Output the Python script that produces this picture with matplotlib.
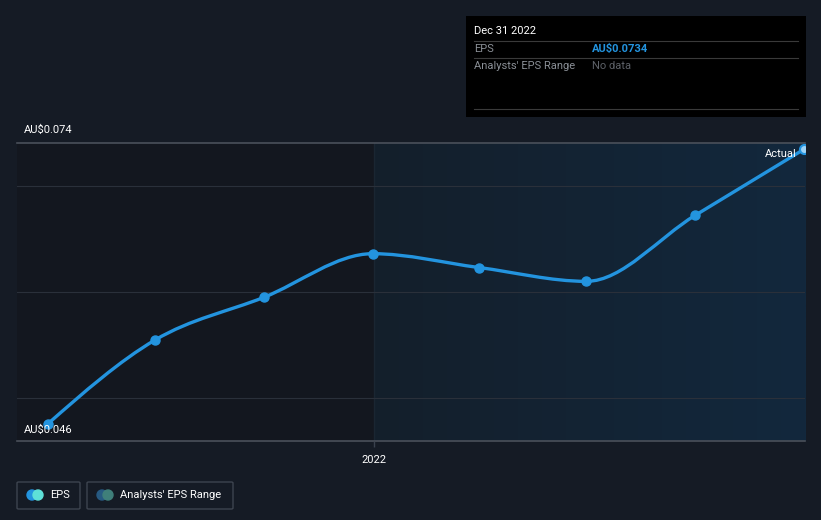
import matplotlib
matplotlib.use("Agg")
import matplotlib.pyplot as plt
import matplotlib.dates as mdates
from matplotlib.path import Path
from matplotlib.patches import PathPatch, FancyBboxPatch, Rectangle, Ellipse
from matplotlib.colors import LinearSegmentedColormap
import numpy as np
import datetime as dt

plt.rcParams['font.family'] = ['Roboto', 'DejaVu Sans']

# ---- data ----
dates = ["2021-03-31", "2021-06-30", "2021-09-30", "2021-12-31",
         "2022-03-31", "2022-06-30", "2022-09-30", "2022-12-31"]
eps = [0.0476, 0.0555, 0.0595, 0.0636, 0.0623, 0.0610, 0.0672, 0.0734]
y_labels = ["AU$0.046", "AU$0.074"]
y_min, y_max = 0.046, 0.074
grid_vals = [0.05, 0.06, 0.07]
forecast_start = "2022-01-01"
tooltip_date = "Dec 31 2022"
tooltip_value = "AU$0.0734"

BG = "#151b25"
LINE = "#2394df"

W, H = 821, 520
fig = plt.figure(figsize=(W / 100, H / 100), dpi=100)
fig.patch.set_facecolor(BG)

L, R, T, B = 17, 805, 143, 441
ax = fig.add_axes([L / W, (H - B) / H, (R - L) / W, (B - T) / H])
ax.set_facecolor("#13171f")

xd = mdates.datestr2num(dates)
fs = mdates.datestr2num(forecast_start)
x0 = mdates.date2num(dt.datetime(2021, 3, 5))
x1 = mdates.date2num(dt.datetime(2023, 1, 1))
ax.set_xlim(x0, x1)
ax.set_ylim(y_min, y_max)

# shaded region with gradient
grad = np.linspace(0, 1, 256).reshape(1, -1)
cmap = LinearSegmentedColormap.from_list("g", ["#141f2b", "#12283d"])
ax.imshow(grad, extent=[fs, x1, y_min, y_max], aspect="auto", cmap=cmap, zorder=0)
ax.axvline(fs, color="#1a2632", lw=1, zorder=1)

# grid lines
for g in grid_vals:
    ax.axhline(g, color="#2a303a", lw=0.8, zorder=1)
ax.axhline(y_max, color="#4a505a", lw=1.2, zorder=1, clip_on=False)
ax.axhline(y_min, color="#4a505a", lw=1.2, zorder=1, clip_on=False)

# smooth monotone curve (Bezier rendering between data points)
x = np.asarray(xd); y = np.asarray(eps)
n = len(x)
h = np.diff(x); d = np.diff(y) / h
m = np.zeros(n)
for i in range(1, n - 1):
    if d[i - 1] * d[i] <= 0:
        m[i] = 0
    else:
        m[i] = (np.sign(d[i - 1]) + np.sign(d[i])) * min(abs(d[i - 1]), abs(d[i]),
               0.5 * abs((h[i - 1] * d[i] + h[i] * d[i - 1]) / (h[i - 1] + h[i])))
m[0] = (3 * d[0] - m[1]) / 2
m[-1] = (3 * d[-1] - m[-2]) / 2
verts = [(x[0], y[0])]
codes = [Path.MOVETO]
for i in range(n - 1):
    dx = h[i] / 3
    verts += [(x[i] + dx, y[i] + m[i] * dx), (x[i + 1] - dx, y[i + 1] - m[i + 1] * dx), (x[i + 1], y[i + 1])]
    codes += [Path.CURVE4] * 3
ax.add_patch(PathPatch(Path(verts, codes), fill=False, edgecolor=LINE, lw=2.4, zorder=3,
                       capstyle="round"))
ax.plot(x[:-1], y[:-1], "o", color=LINE, ms=6.5, zorder=4)
ax.plot(x[-1:], y[-1:], "o", color=LINE, mfc="#9fd3f5", mec=LINE, mew=1.5, ms=6.5, zorder=4)

ax.text(x[-1] - 6, y[-1] - 0.00045, "Actual", color="white", fontsize=8, ha="right", va="center", zorder=5)

for s in ax.spines.values():
    s.set_visible(False)
ax.set_yticks([])
ax.set_xticks([fs])
ax.set_xticklabels(["2022"])
ax.tick_params(axis="x", colors="#3a424e", length=4, width=1, labelcolor="white", labelsize=8, pad=6)

# y labels
fig.text(24 / W, 1 - 130 / H, y_labels[1], color="white", fontsize=8, ha="left", va="center")
fig.text(24 / W, 1 - 430 / H, y_labels[0], color="white", fontsize=8, ha="left", va="center")

# tooltip
fig.patches.append(Rectangle((466 / W, 1 - 117 / H), 340 / W, 101 / H, transform=fig.transFigure,
                             facecolor="black", edgecolor="none", zorder=10))
for yy in [41, 58, 109]:
    fig.lines.append(plt.Line2D([474 / W, 798 / W], [1 - yy / H, 1 - yy / H], transform=fig.transFigure,
                                color="#3a3a3a", lw=0.8, zorder=11))
fig.text(474 / W, 1 - 31 / H, tooltip_date, color="white", fontsize=8, va="center", zorder=12)
fig.text(474 / W, 1 - 49 / H, "EPS", color="#8a8f96", fontsize=8, va="center", zorder=12)
fig.text(592 / W, 1 - 49 / H, tooltip_value, color=LINE, fontsize=8, fontweight="bold", va="center", zorder=12)
fig.text(474 / W, 1 - 66 / H, "Analysts' EPS Range", color="#8a8f96", fontsize=8, va="center", zorder=12)
fig.text(592 / W, 1 - 66 / H, "No data", color="#5d6168", fontsize=8, va="center", zorder=12)

# legend boxes
def legbox(x0p, x1p, c1, c2, label):
    fig.patches.append(FancyBboxPatch((x0p / W, 1 - 509 / H), (x1p - x0p) / W, 27 / H,
                                      boxstyle="round,pad=0,rounding_size=0.002", transform=fig.transFigure,
                                      facecolor="none", edgecolor="#3d444f", lw=1))
    cy = 1 - 495 / H
    fig.add_artist(Ellipse(((x0p + 15) / W, cy), 10 / W, 10 / H, transform=fig.transFigure, color=c1))
    fig.add_artist(Ellipse(((x0p + 21) / W, cy), 10 / W, 10 / H, transform=fig.transFigure, color=c2))
    fig.text((x0p + 33) / W, cy, label, color="white", fontsize=8, va="center")

legbox(17, 80, "#2394df", "#5ee0d8", "EPS")
legbox(87, 233, "#275a82", "#3f7f7a", "Analysts' EPS Range")

fig.savefig("out.png", dpi=100, facecolor=BG)
